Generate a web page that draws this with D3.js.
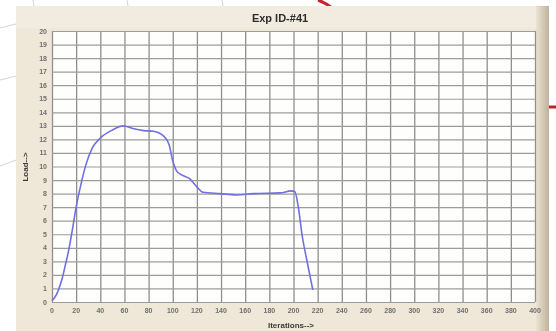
<!DOCTYPE html>
<html>
<head>
<meta charset="utf-8">
<script src="https://cdn.jsdelivr.net/npm/d3@7"></script>
<style>
  html, body { margin: 0; padding: 0; background: #fff; }
  svg { display: block; }
</style>
</head>
<body>
<figure id="chart" style="margin:0"></figure>
<script>
// data
const iterations = [0, 4, 8, 11, 14, 17, 20, 24, 28, 33, 40, 50, 59, 67, 76, 84, 93, 97, 100, 103, 107, 114, 120, 125, 139, 153, 167, 189, 198, 201, 204, 207, 211, 216]
const load = [0.1, 0.6, 1.6, 2.7, 3.9, 5.4, 7.0, 8.7, 10.1, 11.3, 12.1, 12.7, 13.0, 12.8, 12.65, 12.6, 12.2, 11.6, 10.4, 9.7, 9.4, 9.1, 8.5, 8.1, 8.0, 7.9, 8.0, 8.05, 8.2, 8.15, 7.0, 5.0, 3.1, 0.9]
const xTicks = d3.range(0, 401, 20)
const yTicks = d3.range(0, 21, 1)
const title = "Exp ID-#41"
const xTitle = "Iterations-->"
const yTitle = "Load-->"

const W = 556, H = 331
const plot = { left: 52, right: 535, top: 31, bottom: 302 }

const svg = d3.select("#chart").append("svg")
  .attr("width", W).attr("height", H)
  .style("font-family", "'Liberation Sans', Arial, sans-serif")

const defs = svg.append("defs")
defs.append("filter").attr("id", "soft")
  .append("feGaussianBlur").attr("stdDeviation", 0.5)
const grad = defs.append("linearGradient").attr("id", "edge")
grad.append("stop").attr("offset", "0%").attr("stop-color", "#ece3d3")
grad.append("stop").attr("offset", "100%").attr("stop-color", "#bfb29c")

// background scribbles behind the window
const bg = svg.append("g").attr("fill", "none").attr("stroke", "#c9c9c9").attr("stroke-width", 0.8)
bg.append("path").attr("d", "M0,28 L16,24")
bg.append("path").attr("d", "M0,80 L16,76")
bg.append("path").attr("d", "M0,166 L16,160")
bg.append("path").attr("d", "M33,0 L34,6")
bg.append("path").attr("d", "M127,0 L128,6")
bg.append("path").attr("d", "M222,0 L223,6")
svg.append("path").attr("d", "M318,0 Q326,3 332,8")
  .attr("fill", "none").attr("stroke", "#c4232b").attr("stroke-width", 3)
svg.append("path").attr("d", "M549,107 L556,107")
  .attr("stroke", "#c4232b").attr("stroke-width", 3)

const g = svg.append("g").attr("filter", "url(#soft)")

// window panel
g.append("rect").attr("x", 16).attr("y", 6).attr("width", 533).attr("height", H - 6).attr("fill", "#efe7d7")
g.append("rect").attr("x", 16).attr("y", 6).attr("width", 533).attr("height", 22).attr("fill", "#f2ebdf")
g.append("rect").attr("x", 536).attr("y", 6).attr("width", 13).attr("height", H - 6).attr("fill", "url(#edge)")

const x = d3.scaleLinear().domain([0, 400]).range([plot.left, plot.right])
const y = d3.scaleLinear().domain([0, 20]).range([plot.bottom, plot.top])

g.append("rect")
  .attr("x", x(0)).attr("y", y(20))
  .attr("width", x(400) - x(0)).attr("height", y(0) - y(20))
  .attr("fill", "#fefefc")

// grid
g.append("g")
  .attr("transform", `translate(0,${plot.bottom})`)
  .call(d3.axisBottom(x).tickValues(xTicks).tickSize(-(plot.bottom - plot.top)).tickFormat(""))
  .call(a => a.select(".domain").remove())
  .call(a => a.selectAll("line").attr("stroke", "#8f8f8f").attr("stroke-width", 1.3))

g.append("g")
  .attr("transform", `translate(${plot.left},0)`)
  .call(d3.axisLeft(y).tickValues(yTicks).tickSize(-(plot.right - plot.left)).tickFormat(""))
  .call(a => a.select(".domain").remove())
  .call(a => a.selectAll("line").attr("stroke", "#9c9c9c").attr("stroke-width", 1.2))

// tick labels
g.append("g").selectAll("text")
  .data(xTicks).enter().append("text")
  .attr("x", d => x(d)).attr("y", 313)
  .attr("text-anchor", "middle")
  .style("font-size", "7px").style("font-weight", "bold").attr("fill", "#6f6f6f")
  .text(d => d)

g.append("g").selectAll("text")
  .data(yTicks).enter().append("text")
  .attr("x", 47).attr("y", d => y(d) + 2.5)
  .attr("text-anchor", "end")
  .style("font-size", "7px").style("font-weight", "bold").attr("fill", "#6f6f6f")
  .text(d => d)

// titles
g.append("text").attr("x", 280).attr("y", 22)
  .attr("text-anchor", "middle")
  .style("font-size", "11px").style("font-weight", "bold").attr("fill", "#2e2e2e")
  .text(title)

g.append("text").attr("x", 291).attr("y", 328)
  .attr("text-anchor", "middle")
  .style("font-size", "8px").style("font-weight", "bold").attr("fill", "#3a3a3a")
  .text(xTitle)

g.append("text")
  .attr("transform", "translate(28,167) rotate(-90)")
  .attr("text-anchor", "middle")
  .style("font-size", "8px").style("font-weight", "bold").attr("fill", "#3a3a3a")
  .text(yTitle)

// curve
const pts = iterations.map((d, i) => [d, load[i]])
g.append("path")
  .datum(pts)
  .attr("fill", "none")
  .attr("stroke", "#7070e0")
  .attr("stroke-width", 1.6)
  .attr("d", d3.line().x(d => x(d[0])).y(d => y(d[1])).curve(d3.curveMonotoneX))
</script>
</body>
</html>
